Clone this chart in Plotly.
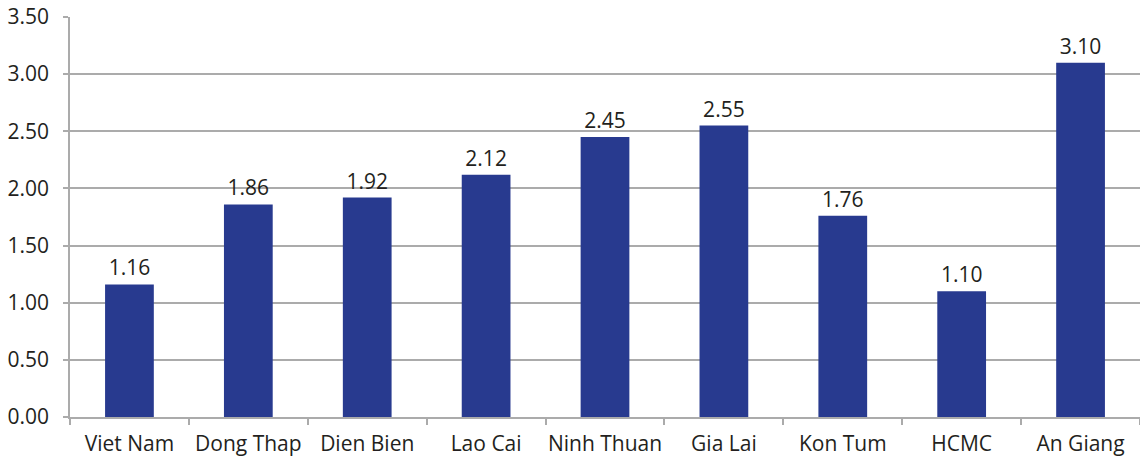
import plotly.graph_objects as go

# Regional values by province
regions = ["Viet Nam", "Dong Thap", "Dien Bien", "Lao Cai", "Ninh Thuan",
           "Gia Lai", "Kon Tum", "HCMC", "An Giang"]
values = [1.16, 1.86, 1.92, 2.12, 2.45, 2.55, 1.76, 1.10, 3.10]
y_ticks = [0, 0.5, 1.0, 1.5, 2.0, 2.5, 3.0, 3.5]

text_color = "#231f20"
grid_color = "#ababab"
font_family = "Open Sans, Noto Sans, DejaVu Sans, sans-serif"
font_size = 21

fig = go.Figure(
    go.Bar(
        x=regions,
        y=values,
        marker=dict(color="#283a8f", line=dict(width=0)),
        text=[f"{v:.2f}" for v in values],
        textposition="outside",
        textfont=dict(size=font_size, color=text_color, family=font_family),
        cliponaxis=False,
    )
)

fig.update_layout(
    width=1140,
    height=462,
    margin=dict(l=70, r=0, t=17, b=45, autoexpand=False),
    plot_bgcolor="white",
    paper_bgcolor="white",
    bargap=0.59,
    showlegend=False,
    uniformtext=dict(mode=False),
    font=dict(family=font_family, size=font_size, color=text_color),
)

fig.update_yaxes(
    range=[0, 3.5],
    tickvals=y_ticks,
    ticktext=[f"{v:.2f}" for v in y_ticks],
    showgrid=True,
    gridcolor=grid_color,
    gridwidth=1.5,
    showline=True,
    linecolor=grid_color,
    linewidth=1.5,
    ticks="outside",
    ticklen=5,
    tickcolor=grid_color,
    tickwidth=1.5,
    ticklabelstandoff=10,
    zeroline=False,
    automargin=False,
    tickfont=dict(size=font_size, color=text_color),
)

fig.update_xaxes(
    showline=True,
    linecolor=grid_color,
    linewidth=1.5,
    ticks="outside",
    tickson="boundaries",
    ticklen=6,
    tickcolor=grid_color,
    tickwidth=1.5,
    ticklabelstandoff=7,
    tickangle=0,
    automargin=False,
    showgrid=False,
    tickfont=dict(size=font_size, color=text_color),
)

fig.write_html("out.html")
